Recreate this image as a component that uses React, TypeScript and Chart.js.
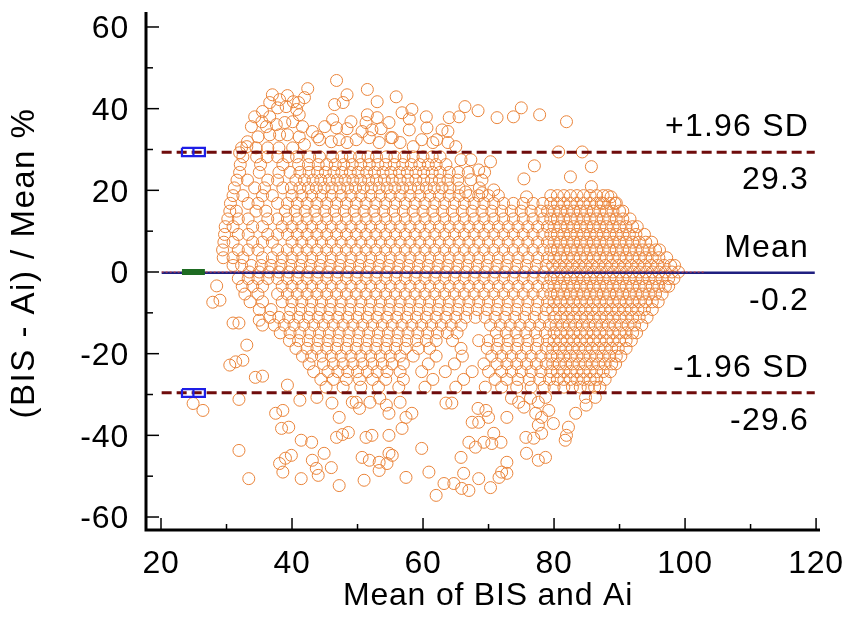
import React, { useEffect, useRef } from 'react';
import Chart from 'chart.js/auto';

// Bland-Altman plot: BIS vs Ai, difference as % of the mean
// rows of the dense cloud: [y, x values read along that row]
const upperRows: [number, number[]][] = [
  [28.2, [32.5, 34.6, 36.2, 37.8, 39.4, 40.7, 42.7, 44.2, 46.2, 47.6, 48.9, 50.3, 51.6, 52.9, 54.4, 55.7, 57.1, 58.5, 60.0, 61.4, 62.6]],
  [26.3, [32.1, 35.2, 38.6, 41.0, 42.5, 44.0, 45.3, 46.6, 47.9, 49.2, 50.5, 51.8, 53.1, 54.3, 55.6, 56.9, 58.2, 59.5, 60.8, 62.0, 63.5]],
  [24.4, [32.0, 35.0, 38.0, 39.7, 41.2, 42.6, 43.9, 45.1, 46.4, 47.6, 48.9, 50.1, 51.4, 52.6, 53.9, 55.1, 56.4, 57.6, 58.9, 60.1, 61.4, 62.6, 64.0, 65.4, 66.9, 69.4]],
  [22.5, [31.6, 33.2, 36.3, 37.8, 40.6, 41.9, 43.2, 44.4, 45.7, 46.9, 48.1, 49.3, 50.5, 51.7, 52.9, 54.1, 55.3, 56.5, 57.7, 58.9, 60.1, 61.3, 62.5, 63.8, 65.3, 69.0]],
  [20.6, [31.2, 34.3, 35.8, 38.6, 39.9, 41.2, 42.5, 43.7, 44.9, 46.1, 47.3, 48.5, 49.7, 50.9, 52.1, 53.3, 54.5, 55.7, 56.9, 58.1, 59.3, 60.5, 61.7, 62.9, 64.1, 65.5, 68.6]],
  [18.7, [31.0, 32.5, 35.5, 37.0, 40.0, 41.5, 43.0, 44.5, 46.0, 47.5, 49.0, 50.5, 52.0, 53.5, 55.0, 56.5, 58.0, 59.5, 61.0, 62.5, 64.0, 65.5, 67.0, 68.5, 70.0, 71.5, 79.5, 80.5, 81.5, 82.5, 83.5, 84.5, 85.5, 86.5, 87.5, 88.2]],
  [16.8, [30.6, 33.3, 34.8, 37.8, 39.3, 40.8, 42.3, 43.8, 45.3, 46.8, 48.3, 49.8, 51.3, 52.8, 54.3, 55.8, 57.3, 58.8, 60.3, 61.8, 63.3, 64.8, 66.3, 67.8, 69.3, 70.8, 72.3, 73.8, 75.3, 76.8, 78.3, 79.5, 80.5, 81.5, 82.5, 83.5, 84.5, 85.5, 86.5, 87.5, 88.5, 89.3]],
  [14.9, [30.5, 31.5, 34.5, 36.0, 39.0, 40.5, 42.0, 43.5, 45.0, 46.5, 48.0, 49.5, 51.0, 52.5, 54.0, 55.5, 57.0, 58.5, 60.0, 61.5, 63.0, 64.5, 66.0, 67.5, 69.0, 70.5, 72.0, 73.5, 75.0, 76.5, 78.0, 79.0, 80.0, 81.0, 82.0, 83.0, 84.0, 85.0, 86.0, 87.0, 88.0, 89.0, 90.0, 90.5]],
  [13.0, [30.2, 31.8, 33.3, 36.3, 37.8, 39.3, 40.8, 42.3, 43.8, 45.3, 46.8, 48.3, 49.8, 51.3, 52.8, 54.3, 55.8, 57.3, 58.8, 60.3, 61.8, 63.3, 64.8, 66.3, 67.8, 69.3, 70.8, 72.3, 73.8, 75.3, 76.8, 78.3, 79.5, 80.5, 81.5, 82.5, 83.5, 84.5, 85.5, 86.5, 87.5, 88.5, 89.5, 90.5, 91.6]],
  [11.1, [29.8, 31.0, 34.0, 35.5, 38.5, 40.0, 41.5, 43.0, 44.5, 46.0, 47.5, 49.0, 50.5, 52.0, 53.5, 55.0, 56.5, 58.0, 59.5, 61.0, 62.5, 64.0, 65.5, 67.0, 68.5, 70.0, 71.5, 73.0, 74.5, 76.0, 77.5, 79.0, 80.0, 81.0, 82.0, 83.0, 84.0, 85.0, 86.0, 87.0, 88.0, 89.0, 90.0, 91.0, 92.0, 92.7]],
  [9.2, [29.7, 31.8, 33.3, 36.3, 37.8, 39.3, 40.8, 42.3, 43.8, 45.3, 46.8, 48.3, 49.8, 51.3, 52.8, 54.3, 55.8, 57.3, 58.8, 60.3, 61.8, 63.3, 64.8, 66.3, 67.8, 69.3, 70.8, 72.3, 73.8, 75.3, 76.8, 78.3, 79.5, 80.5, 81.5, 82.5, 83.5, 84.5, 85.5, 86.5, 87.5, 88.5, 89.5, 90.5, 91.5, 92.5, 93.8]],
  [7.3, [29.6, 31.0, 34.0, 35.5, 37.0, 40.0, 41.5, 43.0, 44.5, 46.0, 47.5, 49.0, 50.5, 52.0, 53.5, 55.0, 56.5, 58.0, 59.5, 61.0, 62.5, 64.0, 65.5, 67.0, 68.5, 70.0, 71.5, 73.0, 74.5, 76.0, 77.5, 79.0, 80.0, 81.0, 82.0, 83.0, 84.0, 85.0, 86.0, 87.0, 88.0, 89.0, 90.0, 91.0, 92.0, 93.0, 94.0, 94.9]],
  [5.4, [29.4, 31.8, 33.3, 34.8, 37.8, 39.3, 40.8, 42.3, 43.8, 45.3, 46.8, 48.3, 49.8, 51.3, 52.8, 54.3, 55.8, 57.3, 58.8, 60.3, 61.8, 63.3, 64.8, 66.3, 67.8, 69.3, 70.8, 72.3, 73.8, 75.3, 76.8, 78.3, 79.5, 80.5, 81.5, 82.5, 83.5, 84.5, 85.5, 86.5, 87.5, 88.5, 89.5, 90.5, 91.5, 92.5, 93.5, 94.5, 95.5, 96.1]],
  [3.5, [29.5, 31.0, 32.5, 35.5, 37.0, 38.5, 40.0, 41.5, 43.0, 44.5, 46.0, 47.5, 49.0, 50.5, 52.0, 53.5, 55.0, 56.5, 58.0, 59.5, 61.0, 62.5, 64.0, 65.5, 67.0, 68.5, 70.0, 71.5, 73.0, 74.5, 76.0, 77.5, 79.0, 80.0, 81.0, 82.0, 83.0, 84.0, 85.0, 86.0, 87.0, 88.0, 89.0, 90.0, 91.0, 92.0, 93.0, 94.0, 95.0, 96.0, 97.2]],
  [1.6, [31.0, 32.3, 33.8, 35.3, 36.8, 38.3, 39.8, 41.3, 42.8, 44.3, 45.8, 47.3, 48.8, 50.3, 51.8, 53.3, 54.8, 56.3, 57.8, 59.3, 60.8, 62.3, 63.8, 65.3, 66.8, 68.3, 69.8, 71.3, 72.8, 74.3, 75.8, 77.3, 78.8, 79.8, 80.8, 81.8, 82.8, 83.8, 84.8, 85.8, 86.8, 87.8, 88.8, 89.8, 90.8, 91.8, 92.8, 93.8, 94.8, 95.8, 96.8, 97.8, 98.4]],
  [0, [33.5, 35.0, 36.5, 38.0, 39.5, 41.0, 42.5, 44.0, 45.5, 47.0, 48.5, 50.0, 51.5, 53.0, 54.5, 56.0, 57.5, 59.0, 60.5, 62.0, 63.5, 65.0, 66.5, 68.0, 69.5, 71.0, 72.5, 74.0, 75.5, 77.0, 78.5, 80.0, 81.0, 82.0, 83.0, 84.0, 85.0, 86.0, 87.0, 88.0, 89.0, 90.0, 91.0, 92.0, 93.0, 94.0, 95.0, 96.0, 97.0, 98.0, 99.0]],
];

const lowerRows: [number, number[]][] = [
  [-1.6, [31.8, 33.3, 34.8, 36.3, 37.8, 39.3, 40.8, 42.3, 43.8, 45.3, 46.8, 48.3, 49.8, 51.3, 52.8, 54.3, 55.8, 57.3, 58.8, 60.3, 61.8, 63.3, 64.8, 66.3, 67.8, 69.3, 70.8, 72.3, 73.8, 75.3, 76.8, 78.3, 79.5, 80.5, 81.5, 82.5, 83.5, 84.5, 85.5, 86.5, 87.5, 88.5, 89.5, 90.5, 91.5, 92.5, 93.5, 94.5, 95.5, 96.5, 97.5, 98.3]],
  [-3.5, [32.4, 34.0, 35.5, 38.5, 40.0, 41.5, 43.0, 44.5, 46.0, 47.5, 49.0, 50.5, 52.0, 53.5, 55.0, 56.5, 58.0, 59.5, 61.0, 62.5, 64.0, 65.5, 67.0, 68.5, 70.0, 71.5, 73.0, 74.5, 76.0, 77.5, 79.0, 80.0, 81.0, 82.0, 83.0, 84.0, 85.0, 86.0, 87.0, 88.0, 89.0, 90.0, 91.0, 92.0, 93.0, 94.0, 95.0, 96.0, 97.0, 97.5]],
  [-5.4, [32.8, 34.8, 37.8, 39.3, 40.8, 42.3, 43.8, 45.3, 46.8, 48.3, 49.8, 51.3, 52.8, 54.3, 55.8, 57.3, 58.8, 60.3, 61.8, 63.3, 64.8, 66.3, 67.8, 69.3, 70.8, 72.3, 73.8, 75.3, 76.8, 78.3, 79.5, 80.5, 81.5, 82.5, 83.5, 84.5, 85.5, 86.5, 87.5, 88.5, 89.5, 90.5, 91.5, 92.5, 93.5, 94.5, 95.5, 96.5]],
  [-7.3, [33.6, 35.5, 38.5, 40.0, 41.5, 43.0, 44.5, 46.0, 47.5, 49.0, 50.5, 52.0, 53.5, 55.0, 56.5, 58.0, 59.5, 61.0, 62.5, 64.0, 65.5, 67.0, 68.5, 70.0, 71.5, 73.0, 74.5, 76.0, 77.5, 79.0, 80.0, 81.0, 82.0, 83.0, 84.0, 85.0, 86.0, 87.0, 88.0, 89.0, 90.0, 91.0, 92.0, 93.0, 94.0, 95.0, 95.9]],
  [-9.2, [35.0, 36.8, 39.8, 41.3, 42.8, 44.3, 45.8, 47.3, 48.8, 50.3, 51.8, 53.3, 54.8, 56.3, 57.8, 59.3, 60.8, 62.3, 63.8, 65.3, 66.8, 68.3, 69.8, 71.3, 72.8, 74.3, 75.8, 77.3, 78.8, 79.8, 80.8, 81.8, 82.8, 83.8, 84.8, 85.8, 86.8, 87.8, 88.8, 89.8, 90.8, 91.8, 92.8, 93.8, 95.0]],
  [-11.1, [36.6, 38.0, 39.5, 41.0, 42.5, 44.0, 45.5, 47.0, 48.5, 50.0, 51.5, 53.0, 54.5, 56.0, 57.5, 59.0, 60.5, 62.0, 63.5, 65.0, 66.5, 68.0, 69.5, 71.0, 72.5, 74.0, 75.5, 77.0, 78.5, 80.0, 81.0, 82.0, 83.0, 84.0, 85.0, 86.0, 87.0, 88.0, 89.0, 90.0, 91.0, 92.0, 93.0, 94.2]],
  [-13.0, [35.5, 37.3, 38.8, 40.3, 41.8, 43.3, 44.8, 46.3, 47.8, 49.3, 50.8, 52.3, 53.8, 55.3, 56.8, 58.3, 59.8, 61.3, 62.8, 64.3, 65.8, 70.3, 71.8, 73.3, 74.8, 76.3, 77.8, 79.3, 80.3, 81.3, 82.3, 83.3, 84.3, 85.3, 86.3, 87.3, 88.3, 89.3, 90.3, 91.3, 92.3, 93.4]],
  [-14.9, [38.2, 39.7, 41.2, 42.7, 44.2, 45.7, 47.2, 48.7, 50.2, 51.7, 53.2, 54.7, 56.2, 57.7, 59.2, 60.7, 62.2, 63.7, 65.2, 71.2, 72.7, 74.2, 75.7, 77.2, 78.7, 80.0, 81.0, 82.0, 83.0, 84.0, 85.0, 86.0, 87.0, 88.0, 89.0, 90.0, 91.0, 92.0, 92.6]],
  [-16.8, [39.6, 41.0, 42.5, 44.0, 45.5, 47.0, 48.5, 50.0, 51.5, 53.0, 54.5, 56.0, 57.5, 59.0, 60.5, 62.0, 64.5, 68.5, 70.0, 71.5, 73.0, 74.5, 76.0, 77.5, 79.0, 80.0, 81.0, 82.0, 83.0, 84.0, 85.0, 86.0, 87.0, 88.0, 89.0, 90.0, 91.0, 91.8]],
  [-18.7, [40.6, 42.3, 43.8, 45.3, 46.8, 48.3, 49.8, 51.3, 52.8, 54.3, 55.8, 57.3, 59.3, 61.0, 65.8, 69.8, 71.3, 72.8, 74.3, 75.8, 77.3, 78.8, 79.8, 80.8, 81.8, 82.8, 83.8, 84.8, 85.8, 86.8, 87.8, 88.8, 89.8, 91.0]],
  [-20.6, [41.6, 43.0, 44.5, 46.0, 47.5, 49.0, 50.5, 52.0, 53.5, 55.0, 56.5, 58.5, 62.0, 66.0, 70.5, 72.0, 73.5, 75.0, 76.5, 78.0, 79.5, 80.5, 81.5, 82.5, 83.5, 84.5, 85.5, 86.5, 87.5, 88.5, 89.5, 90.2]],
  [-22.5, [42.6, 44.8, 46.3, 47.8, 49.3, 50.8, 52.3, 53.8, 55.3, 57.0, 60.8, 64.8, 69.3, 71.3, 72.8, 74.3, 75.8, 77.3, 78.8, 79.8, 80.8, 81.8, 82.8, 83.8, 84.8, 85.8, 86.8, 87.8, 88.8, 89.4]],
  [-24.4, [43.3, 45.5, 47.0, 48.5, 50.0, 51.5, 53.0, 54.5, 56.5, 59.8, 63.4, 67.5, 70.0, 72.0, 73.5, 75.0, 76.5, 78.0, 79.5, 80.5, 81.5, 82.5, 83.5, 84.5, 85.5, 86.5, 87.5, 88.6]],
  [-26.3, [44.4, 46.3, 48.3, 50.3, 52.3, 54.3, 57.0, 61.5, 66.2, 71.0, 72.8, 74.5, 76.2, 77.8, 79.3, 80.5, 81.5, 82.5, 83.5, 84.5, 85.5, 86.5, 87.8]],
  [-28.2, [45.2, 47.8, 50.5, 53.2, 56.3, 60.3, 65.0, 69.5, 72.0, 74.3, 76.5, 78.5, 80.0, 81.5, 82.8, 84.0, 85.2, 86.2, 87.0]],
];

// scattered points outside the dense cloud: [x, y]
const upperOutliers: [number, number][] = [
  [46.8, 46.9], [51.5, 44.7], [55.9, 42.9], [53.0, 41.7], [48.4, 43.4], [47.8, 41.5], [46.5, 41.0], [42.4, 44.9],
  [41.9, 42.7], [41.0, 41.5], [40.7, 39.8], [39.3, 43.2], [38.1, 42.2], [37.0, 43.4], [36.6, 41.5], [37.8, 40.2],
  [39.1, 40.5], [40.2, 41.7], [35.5, 39.3], [34.3, 38.0], [33.8, 35.6], [35.4, 36.8], [36.6, 38.0], [36.1, 35.6],
  [37.6, 36.1], [38.9, 36.6], [40.1, 36.8], [41.1, 38.5], [41.6, 35.6], [43.1, 34.4], [44.2, 32.4], [45.0, 35.6],
  [39.3, 33.6], [38.1, 33.6], [36.6, 33.6], [34.8, 33.1], [33.2, 31.9], [32.3, 30.4], [34.5, 30.4], [36.3, 30.4],
  [38.0, 30.4], [40.1, 30.4], [41.1, 33.1], [41.9, 31.2], [46.2, 37.3], [46.8, 35.3], [32.0, 29.2], [33.1, 30.7],
  [49.0, 36.8], [48.4, 35.1], [51.3, 36.6], [51.5, 38.5], [53.0, 37.8], [53.6, 35.1], [54.8, 36.6], [55.1, 32.9],
  [52.2, 34.8], [50.7, 34.4], [56.8, 39.0], [58.3, 39.8], [57.9, 37.5], [57.9, 34.8], [60.5, 38.0], [60.6, 35.3],
  [62.1, 32.4], [62.9, 34.8], [43.9, 33.1], [46.0, 31.9], [47.2, 32.4], [48.4, 31.7], [49.8, 32.4], [51.8, 32.9],
  [53.3, 31.7], [55.3, 32.9], [56.5, 31.7], [58.5, 30.7], [59.8, 32.4], [61.5, 31.7], [63.8, 31.7],
  [66.4, 40.5], [68.4, 39.5], [64.0, 37.8], [65.5, 38.0], [63.8, 34.4], [71.3, 37.8], [73.8, 38.0], [75.0, 40.2],
  [77.8, 38.5], [81.9, 36.8], [80.7, 29.4], [84.3, 29.4], [77.0, 26.0], [85.7, 25.8], [75.4, 22.8], [82.5, 23.3],
  [85.7, 20.9], [70.3, 27.0], [68.5, 25.0], [67.3, 27.5], [65.8, 27.5], [67.3, 22.6], [65.0, 30.7], [70.8, 20.1],
  [69.0, 19.4], [66.5, 19.6], [75.8, 18.4], [88.7, 18.4], [89.5, 16.9], [87.2, 16.9],
];

const lowerOutliers: [number, number][] = [
  [28.5, -3.4], [27.9, -7.4], [29.0, -6.9], [31.0, -12.5], [31.9, -12.5], [35.0, -11.8], [33.1, -17.9], [30.5, -22.8],
  [31.4, -22.0], [32.5, -21.6], [34.4, -25.8], [35.5, -25.5], [31.9, -31.2], [26.4, -33.9], [24.9, -32.2], [31.9, -43.7],
  [33.4, -50.6], [39.3, -27.7], [37.5, -34.6], [38.6, -33.9], [38.4, -38.3], [39.5, -38.0], [38.1, -46.9], [39.0, -45.6],
  [39.9, -44.9], [38.6, -49.0], [41.4, -41.2], [43.0, -41.7], [43.1, -46.1], [43.7, -48.1], [44.0, -49.8], [44.9, -44.4],
  [46.0, -47.9], [41.4, -50.6], [47.2, -35.6], [47.2, -52.3], [46.8, -40.5], [47.7, -39.8], [48.6, -39.3], [50.7, -45.4],
  [51.8, -46.1], [53.3, -46.6], [54.5, -46.9], [55.3, -44.9], [54.8, -44.4], [53.3, -48.6], [51.0, -51.0], [51.3, -40.5],
  [52.2, -40.0], [54.8, -40.0], [57.4, -50.3], [59.8, -43.2], [60.9, -49.0], [62.0, -54.7], [63.2, -51.8], [50.3, -33.4],
  [49.8, -31.9], [54.4, -32.6], [54.8, -34.6], [57.4, -35.6], [58.3, -34.6], [56.8, -38.3], [63.5, -32.1],
  [41.2, -31.4], [43.8, -30.7], [46.1, -32.1], [49.2, -31.9], [51.9, -31.9], [53.4, -30.9], [56.5, -31.9],
  [64.4, -32.1], [68.4, -33.4], [69.6, -33.9], [70.0, -35.6], [67.5, -36.8], [68.5, -36.8], [70.8, -39.5], [70.5, -42.0],
  [67.0, -41.7], [68.0, -42.9], [69.3, -41.7], [71.9, -41.7], [65.8, -45.4], [66.2, -49.3], [64.7, -51.8], [65.9, -53.0],
  [67.0, -53.5], [68.5, -50.6], [70.3, -52.8], [72.0, -49.0], [72.8, -46.6], [71.6, -50.3], [72.8, -49.3], [72.8, -35.6],
  [74.6, -31.9], [73.5, -30.9], [75.4, -33.1], [76.4, -30.9], [77.6, -31.9], [78.7, -30.7], [77.2, -34.6], [78.1, -35.6],
  [79.2, -33.9], [79.9, -37.1], [77.6, -37.5], [78.1, -39.5], [76.9, -40.7], [75.7, -40.5], [75.8, -44.4], [77.6, -46.1],
  [78.7, -45.4], [81.9, -40.0], [82.2, -38.0], [81.7, -41.2], [83.3, -34.6], [84.9, -32.6], [86.3, -30.7], [84.8, -30.7],
];

const meanDiff = -0.2;
const upperLimit = 29.3;
const lowerLimit = -29.6;
const xTickValues = [20, 30, 40, 50, 60, 70, 80, 90, 100, 110, 120];
const yTickValues = [-60, -50, -40, -30, -20, -10, 0, 10, 20, 30, 40, 50, 60];

const FONT = '"Liberation Sans", Arial, sans-serif';

function rowsToPoints(rows: [number, number[]][]) {
  return rows.flatMap(([y, xs]) => xs.map((x) => ({ x, y })));
}
function pairsToPoints(pairs: [number, number][]) {
  return pairs.map(([x, y]) => ({ x, y }));
}

function hline(y: number, x0: number, x1: number, extra: Record<string, unknown>) {
  return {
    type: 'line' as const,
    data: [{ x: x0, y }, { x: x1, y }],
    pointRadius: 0,
    fill: false,
    order: 1,
    ...extra,
  };
}

function ciBox(yTop: number, yBottom: number) {
  const style = { borderColor: '#1e1ee6', borderWidth: 2.2, pointRadius: 0, fill: false, order: 0, type: 'line' as const };
  return [
    { ...style, data: [{ x: 23.2, y: yTop }, { x: 26.7, y: yTop }, { x: 26.7, y: yBottom }, { x: 23.2, y: yBottom }, { x: 23.2, y: yTop }] },
    { ...style, data: [{ x: 24.95, y: yTop }, { x: 24.95, y: yBottom }] },
  ];
}

const overlay = {
  id: 'overlay',
  afterDraw(chart: any) {
    const { ctx, chartArea: a, scales } = chart;
    const xs = scales.x;
    const ys = scales.y;
    ctx.save();
    // axes
    ctx.strokeStyle = '#000';
    ctx.lineWidth = 3;
    ctx.beginPath();
    ctx.moveTo(a.left, a.top);
    ctx.lineTo(a.left, a.bottom);
    ctx.lineTo(a.right, a.bottom);
    ctx.stroke();
    ctx.lineWidth = 1.5;
    yTickValues.forEach((v) => {
      const py = ys.getPixelForValue(v);
      const len = v % 20 === 0 ? 13 : 7;
      ctx.beginPath();
      ctx.moveTo(a.left, py);
      ctx.lineTo(a.left + len, py);
      ctx.stroke();
    });
    xTickValues.forEach((v) => {
      const px = xs.getPixelForValue(v);
      const len = v % 20 === 0 ? 12 : 6;
      ctx.beginPath();
      ctx.moveTo(px, a.bottom);
      ctx.lineTo(px, a.bottom - len);
      ctx.stroke();
    });

    ctx.fillStyle = '#000';
    ctx.font = `32px ${FONT}`;
    ctx.textBaseline = 'alphabetic';
    (ctx as any).letterSpacing = '0.8px';
    ctx.textAlign = 'right';
    yTickValues.filter((v) => v % 20 === 0).forEach((v) => {
      ctx.fillText(String(v), 129, ys.getPixelForValue(v) + 11.4);
    });
    ctx.textAlign = 'center';
    xTickValues.filter((v) => v % 20 === 0).forEach((v) => {
      ctx.fillText(String(v), xs.getPixelForValue(v), 573);
    });

    // axis titles
    ctx.fillText('Mean of BIS and Ai', 488, 605);
    ctx.save();
    ctx.translate(34, 263);
    ctx.rotate(-Math.PI / 2);
    ctx.font = `33px ${FONT}`;
    (ctx as any).letterSpacing = '1.5px';
    ctx.fillText('(BIS - Ai) / Mean %', 0, 0);
    ctx.restore();

    // limit labels
    ctx.textAlign = 'right';
    (ctx as any).letterSpacing = '1.2px';
    const rx = 809;
    const labels: [number, string, string][] = [
      [upperLimit, '+1.96 SD', upperLimit.toFixed(1)],
      [meanDiff, 'Mean', meanDiff.toFixed(1)],
      [lowerLimit, '-1.96 SD', lowerLimit.toFixed(1)],
    ];
    labels.forEach(([v, above, below]) => {
      const py = ys.getPixelForValue(v);
      ctx.fillText(above, rx, py - 16);
      ctx.fillText(below, rx, py + 37);
    });
    ctx.restore();
  },
};

export default function App(): React.JSX.Element {
  const canvasRef = useRef<HTMLCanvasElement | null>(null);

  useEffect(() => {
    if (!canvasRef.current) return;
    const points = [
      ...rowsToPoints(upperRows),
      ...rowsToPoints(lowerRows),
      ...pairsToPoints(upperOutliers),
      ...pairsToPoints(lowerOutliers),
    ];
    const limitStyle = { borderColor: '#6f0c0c', borderWidth: 3, borderDash: [10, 5] };
    const chart = new Chart(canvasRef.current, {
      type: 'scatter',
      data: {
        datasets: [
          ...ciBox(30.4, 28.4),
          ...ciBox(-28.7, -30.6),
          hline(0, 23.2, 26.7, { borderColor: '#1e6b22', borderWidth: 6, order: 0 }),
          hline(upperLimit, 20.1, 119.8, limitStyle),
          hline(lowerLimit, 20.1, 119.8, limitStyle),
          hline(0, 20.1, 103, { borderColor: '#e04a3a', borderWidth: 1, borderDash: [2, 2] }),
          hline(meanDiff, 20.1, 119.8, { borderColor: '#1f1f80', borderWidth: 2.5 }),
          {
            type: 'scatter' as const,
            data: points,
            pointRadius: 6,
            pointStyle: 'circle',
            borderWidth: 1,
            borderColor: '#ea843a',
            backgroundColor: 'rgba(0,0,0,0)',
            pointBackgroundColor: 'rgba(0,0,0,0)',
            pointBorderColor: '#ea843a',
            order: 5,
          },
        ] as any,
      },
      options: {
        animation: false,
        responsive: false,
        maintainAspectRatio: false,
        events: [],
        layout: { padding: { top: 12, right: 31, left: 0, bottom: 0 } },
        plugins: { legend: { display: false }, tooltip: { enabled: false } },
        scales: {
          x: {
            type: 'linear',
            min: 17.71,
            max: 120.6,
            ticks: { display: false },
            grid: { display: false, drawTicks: false },
            border: { display: false },
            afterFit: (s: any) => {
              s.height = 100;
            },
          },
          y: {
            type: 'linear',
            min: -63.18,
            max: 63.67,
            ticks: { display: false },
            grid: { display: false, drawTicks: false },
            border: { display: false },
            afterFit: (s: any) => {
              s.width = 146;
            },
          },
        },
      },
      plugins: [overlay],
    });
    return () => chart.destroy();
  }, []);

  return (
    <div style={{ position: 'absolute', left: 0, top: 0, width: 851, height: 630, background: '#fff' }}>
      <canvas ref={canvasRef} width={851} height={630} />
    </div>
  );
}
